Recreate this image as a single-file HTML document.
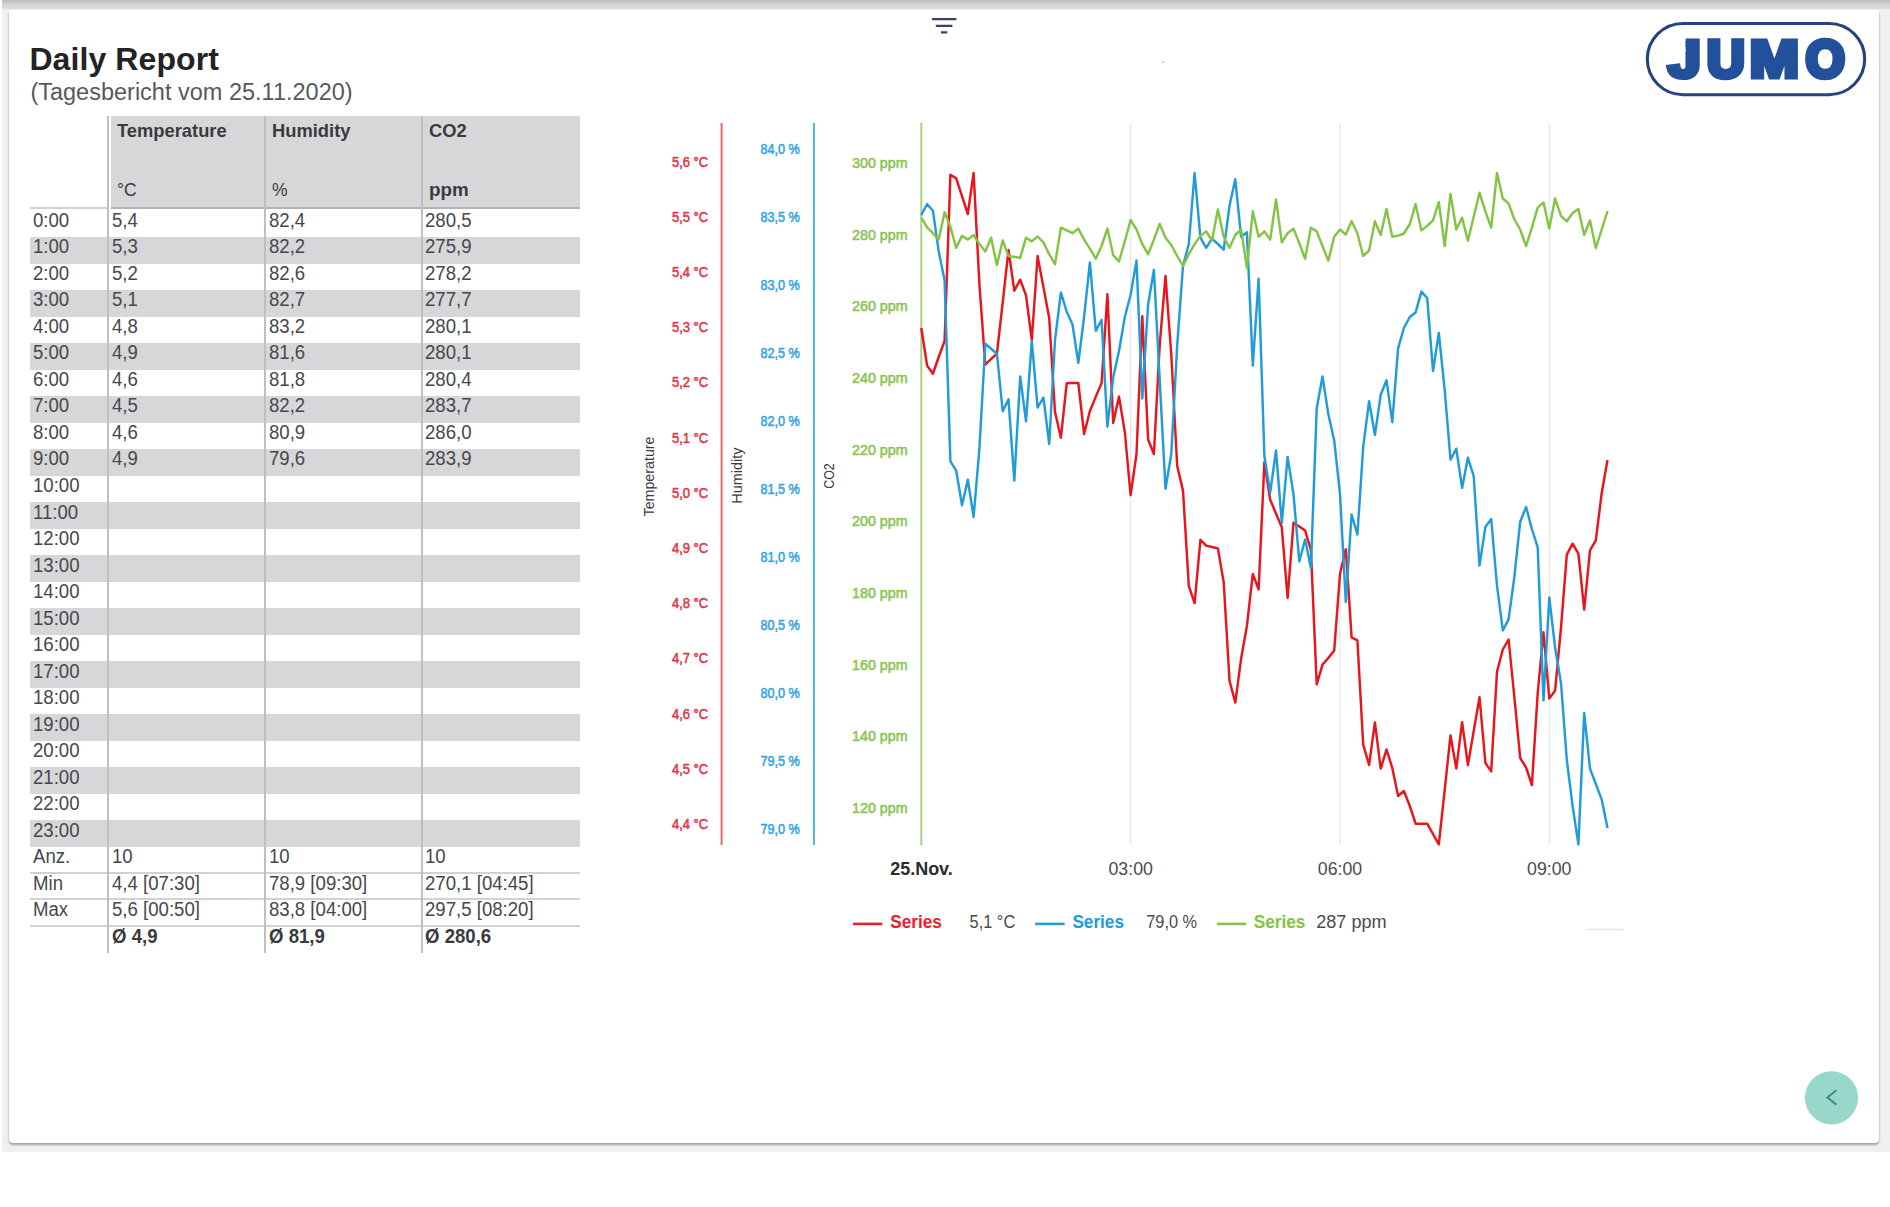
<!DOCTYPE html>
<html lang="en"><head><meta charset="utf-8"><title>Daily Report</title>
<style>
html,body{margin:0;padding:0;background:#fff;}
body{width:1890px;height:1207px;position:relative;overflow:hidden;font-family:'Liberation Sans', Arial, sans-serif;}
.abs{position:absolute;}
#bg{left:2px;top:0;width:1888px;height:1152px;background:#f0f0f2;}
#topgrad{left:2px;top:0;width:1888px;height:11px;background:linear-gradient(to bottom,#c0bac0 0px,#c4bec1 1.2px,#cdc9c4 2.1px,#cfccc8 3.2px,#cdd5d9 4.3px,#d3d8db 6px,#d9d9db 8px,#ebebed 9.6px,#f7f7f8 11px);}
#card{left:8.6px;top:10px;width:1870px;height:1132.6px;background:#fff;border-radius:4px;box-shadow:0 2px 2px rgba(60,60,75,.42),0 0 2.5px rgba(60,60,75,.16);}
#cardtop{left:8.6px;top:8px;width:1870px;height:8px;background:linear-gradient(to bottom,rgba(255,255,255,0),#fff 4px);}
h1{margin:0;left:29.4px;top:40.5px;font-size:32px;line-height:36px;font-weight:bold;color:#232325;white-space:nowrap;letter-spacing:0.1px}
#sub{left:30.4px;top:78.8px;font-size:23.5px;line-height:27px;color:#58585c;white-space:nowrap;}
.row{left:30px;width:550px;height:26.5px;}
.g{background:#d7d7d9;}
.t{position:absolute;white-space:nowrap;font-size:20px;line-height:26px;color:#47474b;transform-origin:0 50%;transform:scaleX(.93);top:-3.7px}
.c0{left:3px} .c1{left:82.3px} .c2{left:238.5px} .c3{left:395px}
.b{font-weight:bold;color:#3a3a3e}
.vl{width:1.8px;background:#bebec3;top:116px;height:837px;}
.hl{left:30px;width:550px;height:2px;background:#d2d2d5;}
#thead{left:111px;top:116px;width:469px;height:91px;background:#d7d7d9;border-bottom:2.2px solid #b4b4b8;}
.h{position:absolute;white-space:nowrap;font-size:19px;line-height:22px;color:#3a3a3e;transform-origin:0 50%;}
.hb{font-weight:bold;transform:scaleX(.965);top:4px}
.hu{transform:scaleX(.92);top:62.6px}
</style></head><body>
<div id="bg" class="abs"></div><div id="topgrad" class="abs"></div><div id="card" class="abs"></div><div id="cardtop" class="abs"></div>
<h1 class="abs">Daily Report</h1>
<div id="sub" class="abs">(Tagesbericht vom 25.11.2020)</div>

<div id="thead" class="abs">
<span class="h hb" style="left:5.5px">Temperature</span><span class="h hu" style="left:5.5px">°C</span>
<span class="h hb" style="left:160.7px">Humidity</span><span class="h hu" style="left:160.7px">%</span>
<span class="h hb" style="left:318.3px">CO2</span><span class="h hu" style="left:318.3px;font-weight:bold;transform:scaleX(.99)">ppm</span>
</div>
<div class="abs hl" style="top:207.2px;width:78px"></div>
<div class="row abs" style="top:210.50px"><span class="t c0">0:00</span><span class="t c1">5,4</span><span class="t c2">82,4</span><span class="t c3">280,5</span></div>
<div class="row abs g" style="top:237.02px"><span class="t c0">1:00</span><span class="t c1">5,3</span><span class="t c2">82,2</span><span class="t c3">275,9</span></div>
<div class="row abs" style="top:263.54px"><span class="t c0">2:00</span><span class="t c1">5,2</span><span class="t c2">82,6</span><span class="t c3">278,2</span></div>
<div class="row abs g" style="top:290.06px"><span class="t c0">3:00</span><span class="t c1">5,1</span><span class="t c2">82,7</span><span class="t c3">277,7</span></div>
<div class="row abs" style="top:316.58px"><span class="t c0">4:00</span><span class="t c1">4,8</span><span class="t c2">83,2</span><span class="t c3">280,1</span></div>
<div class="row abs g" style="top:343.10px"><span class="t c0">5:00</span><span class="t c1">4,9</span><span class="t c2">81,6</span><span class="t c3">280,1</span></div>
<div class="row abs" style="top:369.62px"><span class="t c0">6:00</span><span class="t c1">4,6</span><span class="t c2">81,8</span><span class="t c3">280,4</span></div>
<div class="row abs g" style="top:396.14px"><span class="t c0">7:00</span><span class="t c1">4,5</span><span class="t c2">82,2</span><span class="t c3">283,7</span></div>
<div class="row abs" style="top:422.66px"><span class="t c0">8:00</span><span class="t c1">4,6</span><span class="t c2">80,9</span><span class="t c3">286,0</span></div>
<div class="row abs g" style="top:449.18px"><span class="t c0">9:00</span><span class="t c1">4,9</span><span class="t c2">79,6</span><span class="t c3">283,9</span></div>
<div class="row abs" style="top:475.70px"><span class="t c0">10:00</span></div>
<div class="row abs g" style="top:502.22px"><span class="t c0">11:00</span></div>
<div class="row abs" style="top:528.74px"><span class="t c0">12:00</span></div>
<div class="row abs g" style="top:555.26px"><span class="t c0">13:00</span></div>
<div class="row abs" style="top:581.78px"><span class="t c0">14:00</span></div>
<div class="row abs g" style="top:608.30px"><span class="t c0">15:00</span></div>
<div class="row abs" style="top:634.82px"><span class="t c0">16:00</span></div>
<div class="row abs g" style="top:661.34px"><span class="t c0">17:00</span></div>
<div class="row abs" style="top:687.86px"><span class="t c0">18:00</span></div>
<div class="row abs g" style="top:714.38px"><span class="t c0">19:00</span></div>
<div class="row abs" style="top:740.90px"><span class="t c0">20:00</span></div>
<div class="row abs g" style="top:767.42px"><span class="t c0">21:00</span></div>
<div class="row abs" style="top:793.94px"><span class="t c0">22:00</span></div>
<div class="row abs g" style="top:820.46px"><span class="t c0">23:00</span></div>
<div class="row abs" style="top:846.98px"><span class="t c0">Anz.</span><span class="t c1">10</span><span class="t c2">10</span><span class="t c3">10</span></div>
<div class="row abs" style="top:873.50px"><span class="t c0">Min</span><span class="t c1">4,4 [07:30]</span><span class="t c2">78,9 [09:30]</span><span class="t c3">270,1 [04:45]</span></div>
<div class="row abs" style="top:900.02px"><span class="t c0">Max</span><span class="t c1">5,6 [00:50]</span><span class="t c2">83,8 [04:00]</span><span class="t c3">297,5 [08:20]</span></div>
<div class="row abs" style="top:926.54px"><span class="t c1 b">Ø 4,9</span><span class="t c2 b">Ø 81,9</span><span class="t c3 b">Ø 280,6</span></div>
<div class="abs hl" style="top:872px"></div>
<div class="abs hl" style="top:898.4px"></div>
<div class="abs hl" style="top:924.8px"></div>
<div class="abs vl" style="left:107px"></div>
<div class="abs vl" style="left:264.3px"></div>
<div class="abs vl" style="left:421.3px"></div>
<svg class="abs" style="left:0;top:0" width="1890" height="1207" viewBox="0 0 1890 1207" font-family="Liberation Sans, Arial, sans-serif">
<g stroke="#3d4463" stroke-width="2.2"><path d="M932 19.2H956.4M935.8 25.8H952.4M941 32.4H947.3"/></g>
<rect x="1162.5" y="61.5" width="1.2" height="1.2" fill="#777"/>
<rect x="1647.3" y="23.5" width="217.4" height="71.2" rx="35.6" fill="#fff" stroke="#27437f" stroke-width="3.1"/>
<clipPath id="jc"><path d="M1660 30H1720V90H1660V52H1685.6V30Z"/></clipPath>
<g font-size="100" font-weight="bold" fill="#23509b" stroke="#23509b" stroke-width="5.5" stroke-linejoin="miter">
<g clip-path="url(#jc)"><text transform="translate(1668.28 76.75) scale(0.5851 0.5165)" vector-effect="non-scaling-stroke">J</text></g>
<g><text transform="translate(1707.02 76.75) scale(0.5217 0.5165)" vector-effect="non-scaling-stroke">U</text></g>
<g><text transform="translate(1749.72 76.75) scale(0.5900 0.5165)" vector-effect="non-scaling-stroke">M</text></g>
<g><text transform="translate(1805.64 76.75) scale(0.5014 0.5165)" vector-effect="non-scaling-stroke">O</text></g>
</g>
<g stroke="#e6e6e8" stroke-width="1.2"><path d="M1130.7 123V845M1340 123V845M1549.3 123V845"/></g>
<path d="M721.6 123V845" stroke="#ea6b6e" stroke-width="2"/><path d="M813.9 123V845" stroke="#4fb2dd" stroke-width="2"/><path d="M921.3 123V845" stroke="#a6d07f" stroke-width="2"/>
<g font-size="14" text-anchor="end" stroke-width="0.55" stroke-linejoin="round">
<g fill="#e1384c" stroke="#e1384c">
<text x="708.2" y="166.6" textLength="36.3" lengthAdjust="spacingAndGlyphs">5,6 °C</text>
<text x="708.2" y="221.8" textLength="36.3" lengthAdjust="spacingAndGlyphs">5,5 °C</text>
<text x="708.2" y="277.0" textLength="36.3" lengthAdjust="spacingAndGlyphs">5,4 °C</text>
<text x="708.2" y="332.2" textLength="36.3" lengthAdjust="spacingAndGlyphs">5,3 °C</text>
<text x="708.2" y="387.4" textLength="36.3" lengthAdjust="spacingAndGlyphs">5,2 °C</text>
<text x="708.2" y="442.6" textLength="36.3" lengthAdjust="spacingAndGlyphs">5,1 °C</text>
<text x="708.2" y="497.8" textLength="36.3" lengthAdjust="spacingAndGlyphs">5,0 °C</text>
<text x="708.2" y="553.0" textLength="36.3" lengthAdjust="spacingAndGlyphs">4,9 °C</text>
<text x="708.2" y="608.2" textLength="36.3" lengthAdjust="spacingAndGlyphs">4,8 °C</text>
<text x="708.2" y="663.4" textLength="36.3" lengthAdjust="spacingAndGlyphs">4,7 °C</text>
<text x="708.2" y="718.6" textLength="36.3" lengthAdjust="spacingAndGlyphs">4,6 °C</text>
<text x="708.2" y="773.8" textLength="36.3" lengthAdjust="spacingAndGlyphs">4,5 °C</text>
<text x="708.2" y="829.0" textLength="36.3" lengthAdjust="spacingAndGlyphs">4,4 °C</text>
</g><g fill="#37a5df" stroke="#37a5df">
<text x="799.8" y="153.9" textLength="39.4" lengthAdjust="spacingAndGlyphs">84,0 %</text>
<text x="799.8" y="221.9" textLength="39.4" lengthAdjust="spacingAndGlyphs">83,5 %</text>
<text x="799.8" y="289.9" textLength="39.4" lengthAdjust="spacingAndGlyphs">83,0 %</text>
<text x="799.8" y="357.9" textLength="39.4" lengthAdjust="spacingAndGlyphs">82,5 %</text>
<text x="799.8" y="425.9" textLength="39.4" lengthAdjust="spacingAndGlyphs">82,0 %</text>
<text x="799.8" y="493.9" textLength="39.4" lengthAdjust="spacingAndGlyphs">81,5 %</text>
<text x="799.8" y="561.9" textLength="39.4" lengthAdjust="spacingAndGlyphs">81,0 %</text>
<text x="799.8" y="629.9" textLength="39.4" lengthAdjust="spacingAndGlyphs">80,5 %</text>
<text x="799.8" y="697.9" textLength="39.4" lengthAdjust="spacingAndGlyphs">80,0 %</text>
<text x="799.8" y="765.9" textLength="39.4" lengthAdjust="spacingAndGlyphs">79,5 %</text>
<text x="799.8" y="833.9" textLength="39.4" lengthAdjust="spacingAndGlyphs">79,0 %</text>
</g><g fill="#8cc653" stroke="#8cc653">
<text x="907.6" y="167.8" textLength="55.6" lengthAdjust="spacingAndGlyphs">300 ppm</text>
<text x="907.6" y="239.5" textLength="55.6" lengthAdjust="spacingAndGlyphs">280 ppm</text>
<text x="907.6" y="311.2" textLength="55.6" lengthAdjust="spacingAndGlyphs">260 ppm</text>
<text x="907.6" y="382.9" textLength="55.6" lengthAdjust="spacingAndGlyphs">240 ppm</text>
<text x="907.6" y="454.6" textLength="55.6" lengthAdjust="spacingAndGlyphs">220 ppm</text>
<text x="907.6" y="526.3" textLength="55.6" lengthAdjust="spacingAndGlyphs">200 ppm</text>
<text x="907.6" y="598.0" textLength="55.6" lengthAdjust="spacingAndGlyphs">180 ppm</text>
<text x="907.6" y="669.7" textLength="55.6" lengthAdjust="spacingAndGlyphs">160 ppm</text>
<text x="907.6" y="741.4" textLength="55.6" lengthAdjust="spacingAndGlyphs">140 ppm</text>
<text x="907.6" y="813.1" textLength="55.6" lengthAdjust="spacingAndGlyphs">120 ppm</text>
</g></g>
<g font-size="14" fill="#3a3a3a" text-anchor="middle">
<text transform="translate(653.8 476.5) rotate(-90)" textLength="80" lengthAdjust="spacingAndGlyphs">Temperature</text>
<text transform="translate(742.2 475.7) rotate(-90)" textLength="56.2" lengthAdjust="spacingAndGlyphs">Humidity</text>
<text transform="translate(833.6 476) rotate(-90)" textLength="25.6" lengthAdjust="spacingAndGlyphs">CO2</text>
</g>
<g fill="none" stroke-width="2.45" stroke-linejoin="round" stroke-linecap="butt">
<polyline stroke="#e9151c" points="921.3,328.0 927.1,365.6 932.9,373.8 938.7,357.0 944.6,341.0 950.4,174.8 956.2,178.4 962.0,196.1 967.8,214.0 973.6,172.9 979.4,284.3 985.3,364.7 991.1,359.0 996.9,353.7 1002.7,302.5 1008.5,250.0 1014.3,290.7 1020.2,279.7 1026.0,295.2 1031.8,340.0 1037.6,256.0 1043.4,287.0 1049.2,318.0 1055.0,412.0 1060.9,437.7 1066.7,383.3 1072.5,383.0 1078.3,383.0 1084.1,434.0 1089.9,411.0 1095.8,396.6 1101.6,383.0 1107.4,294.3 1113.2,423.0 1119.0,396.6 1124.8,432.0 1130.6,495.2 1136.5,454.0 1142.3,316.2 1148.1,439.5 1153.9,454.0 1159.7,345.0 1165.5,276.0 1171.3,355.0 1177.2,466.0 1183.0,490.6 1188.8,585.8 1194.6,603.1 1200.4,539.8 1206.2,545.6 1212.0,547.0 1217.9,548.4 1223.7,582.1 1229.5,680.7 1235.3,702.6 1241.1,658.8 1246.9,626.0 1252.8,573.9 1258.6,589.4 1264.4,462.3 1270.2,499.8 1276.0,513.5 1281.8,527.3 1287.6,598.0 1293.5,522.7 1299.3,526.5 1305.1,530.4 1310.9,550.0 1316.7,684.3 1322.5,664.6 1328.3,658.0 1334.2,650.5 1340.0,574.0 1345.8,549.2 1351.6,637.3 1357.4,640.3 1363.2,744.7 1369.1,765.0 1374.9,722.4 1380.7,768.6 1386.5,749.5 1392.3,768.0 1398.1,796.0 1403.9,791.0 1409.8,806.0 1415.6,823.7 1421.4,823.7 1427.2,823.7 1433.0,834.0 1438.8,844.4 1444.7,789.8 1450.5,735.5 1456.3,768.6 1462.1,722.2 1467.9,765.0 1473.7,731.0 1479.5,697.2 1485.4,763.0 1491.2,771.4 1497.0,671.7 1502.8,649.5 1508.6,639.5 1514.4,697.5 1520.2,758.0 1526.1,767.7 1531.9,785.0 1537.7,693.0 1543.5,632.2 1549.3,698.5 1555.1,690.7 1561.0,627.6 1566.8,554.6 1572.6,543.7 1578.4,553.7 1584.2,609.6 1590.0,550.3 1595.8,540.3 1601.7,493.0 1607.5,460.0"/>
<polyline stroke="#219cd8" points="921.3,215.0 927.1,204.0 932.9,210.7 938.7,251.4 944.6,280.6 950.4,461.4 956.2,470.6 962.0,505.2 967.8,479.7 973.6,517.0 979.4,448.7 985.3,343.7 991.1,348.7 996.9,353.7 1002.7,411.2 1008.5,399.4 1014.3,480.6 1020.2,376.5 1026.0,421.3 1031.8,341.0 1037.6,407.6 1043.4,397.5 1049.2,444.0 1055.0,340.0 1060.9,292.5 1066.7,311.7 1072.5,324.5 1078.3,362.9 1084.1,317.0 1089.9,262.4 1095.8,330.8 1101.6,319.9 1107.4,426.7 1113.2,377.5 1119.0,351.0 1124.8,317.0 1130.6,295.0 1136.5,260.6 1142.3,398.5 1148.1,304.4 1153.9,270.0 1159.7,380.0 1165.5,488.8 1171.3,454.0 1177.2,345.0 1183.0,266.0 1188.8,244.0 1194.6,173.0 1200.4,237.7 1206.2,247.8 1212.0,238.7 1217.9,244.0 1223.7,249.6 1229.5,205.8 1235.3,179.3 1241.1,236.8 1246.9,232.3 1252.8,365.6 1258.6,278.8 1264.4,456.0 1270.2,492.5 1276.0,450.5 1281.8,523.0 1287.6,456.9 1293.5,494.3 1299.3,561.5 1305.1,539.5 1310.9,568.0 1316.7,408.5 1322.5,376.5 1328.3,414.0 1334.2,440.4 1340.0,494.0 1345.8,602.0 1351.6,514.5 1357.4,534.6 1363.2,446.8 1369.1,401.2 1374.9,435.0 1380.7,394.8 1386.5,380.2 1392.3,422.2 1398.1,348.3 1403.9,328.0 1409.8,317.0 1415.6,312.6 1421.4,291.6 1427.2,298.0 1433.0,371.0 1438.8,333.0 1444.7,390.0 1450.5,459.6 1456.3,448.7 1462.1,487.9 1467.9,457.8 1473.7,476.0 1479.5,565.6 1485.4,527.0 1491.2,519.0 1497.0,585.6 1502.8,630.4 1508.6,619.4 1514.4,576.5 1520.2,521.7 1526.1,507.0 1531.9,529.0 1537.7,547.3 1543.5,700.4 1549.3,597.5 1555.1,647.7 1561.0,683.0 1566.8,760.0 1572.6,806.0 1578.4,844.4 1584.2,713.2 1590.0,768.6 1595.8,784.0 1601.7,799.6 1607.5,828.0"/>
<polyline stroke="#84c444" points="921.3,217.7 927.1,227.3 932.9,233.2 938.7,239.6 944.6,212.2 950.4,226.8 956.2,247.8 962.0,235.9 967.8,239.6 973.6,235.0 979.4,244.1 985.3,251.4 991.1,237.7 996.9,265.1 1002.7,240.5 1008.5,256.0 1014.3,256.9 1020.2,257.8 1026.0,237.7 1031.8,241.4 1037.6,236.5 1043.4,242.3 1049.2,254.2 1055.0,264.2 1060.9,227.7 1066.7,230.4 1072.5,233.2 1078.3,228.6 1084.1,239.6 1089.9,248.7 1095.8,258.7 1101.6,246.0 1107.4,228.6 1113.2,255.1 1119.0,261.5 1124.8,241.4 1130.6,220.0 1136.5,229.5 1142.3,244.1 1148.1,254.2 1153.9,239.6 1159.7,224.0 1165.5,237.7 1171.3,245.0 1177.2,256.0 1183.0,266.0 1188.8,254.2 1194.6,244.1 1200.4,235.9 1206.2,231.4 1212.0,240.5 1217.9,209.4 1223.7,236.8 1229.5,247.8 1235.3,235.0 1241.1,229.5 1246.9,267.9 1252.8,211.3 1258.6,236.8 1264.4,231.4 1270.2,239.6 1276.0,199.4 1281.8,242.3 1287.6,233.2 1293.5,228.6 1299.3,243.2 1305.1,258.7 1310.9,227.7 1316.7,231.4 1322.5,246.0 1328.3,260.6 1334.2,236.8 1340.0,229.5 1345.8,234.6 1351.6,221.3 1357.4,233.2 1363.2,256.0 1369.1,250.5 1374.9,221.3 1380.7,235.0 1386.5,209.1 1392.3,236.8 1398.1,235.6 1403.9,233.5 1409.8,224.0 1415.6,204.0 1421.4,230.4 1427.2,225.9 1433.0,220.4 1438.8,202.1 1444.7,246.0 1450.5,193.9 1456.3,229.5 1462.1,217.7 1467.9,240.8 1473.7,216.8 1479.5,192.7 1485.4,211.3 1491.2,227.7 1497.0,172.9 1502.8,198.5 1508.6,203.6 1514.4,219.5 1520.2,229.5 1526.1,246.0 1531.9,227.7 1537.7,207.6 1543.5,202.5 1549.3,228.6 1555.1,198.5 1561.0,215.8 1566.8,221.3 1572.6,213.1 1578.4,208.9 1584.2,235.0 1590.0,220.4 1595.8,248.0 1601.7,229.5 1607.5,211.0"/>
</g>
<g font-size="18" fill="#4a4a4c">
<text x="890.2" y="874.6" font-weight="bold" fill="#2b2b2d" textLength="62.6" lengthAdjust="spacingAndGlyphs">25.Nov.</text>
<text x="1108.5" y="874.6" textLength="44.4" lengthAdjust="spacingAndGlyphs">03:00</text>
<text x="1317.8" y="874.6" textLength="44.4" lengthAdjust="spacingAndGlyphs">06:00</text>
<text x="1527.1" y="874.6" textLength="44.4" lengthAdjust="spacingAndGlyphs">09:00</text>
</g>
<g font-size="18">
<path d="M853 923.9h29.4" stroke="#e6232b" stroke-width="2.6"/>
<text x="890.2" y="927.9" font-weight="bold" fill="#e6232b" textLength="51.6" lengthAdjust="spacingAndGlyphs">Series</text>
<text x="969.6" y="927.9" fill="#4a4a4c" textLength="45.6" lengthAdjust="spacingAndGlyphs">5,1 °C</text>
<path d="M1035.2 923.9h29.4" stroke="#219cd8" stroke-width="2.6"/>
<text x="1072.4" y="927.9" font-weight="bold" fill="#219cd8" textLength="51.6" lengthAdjust="spacingAndGlyphs">Series</text>
<text x="1146.3" y="927.9" fill="#4a4a4c" textLength="50.8" lengthAdjust="spacingAndGlyphs">79,0 %</text>
<path d="M1216.8 923.9h29.4" stroke="#84c444" stroke-width="2.6"/>
<text x="1253.8" y="927.9" font-weight="bold" fill="#84c444" textLength="51.6" lengthAdjust="spacingAndGlyphs">Series</text>
<text x="1316.2" y="927.9" fill="#4a4a4c" textLength="70.5" lengthAdjust="spacingAndGlyphs">287 ppm</text>
</g>
<path d="M1587 929.5h36" stroke="#e4e4e6" stroke-width="1.5"/>
<circle cx="1831.5" cy="1097.8" r="26.6" fill="#97d8cb"/>
<path d="M1836.4 1090.2L1827.4 1097.4L1836.4 1104.6" fill="none" stroke="#3f8f86" stroke-width="2"/>
</svg>
</body></html>
